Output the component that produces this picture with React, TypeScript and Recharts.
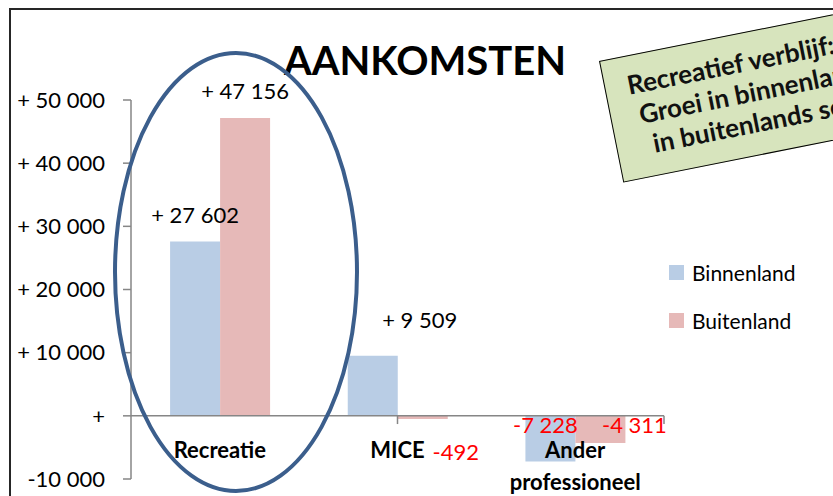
import { BarChart, Bar, XAxis, YAxis, ReferenceLine, ReferenceDot, LabelList } from 'recharts'

const categories = ['Recreatie', 'MICE', 'Ander professioneel']
const categoryLines = [['Recreatie'], ['MICE'], ['Ander', 'professioneel']]
const binnenland = [27602, 9509, -7228]
const buitenland = [47156, -492, -4311]
const yTicks = [-10000, 0, 10000, 20000, 30000, 40000, 50000]
const seriesNames = ['Binnenland', 'Buitenland']
const seriesColors = ['#b9cde5', '#e6b9b8']
const boundaryTicks = [1, 2, 3]

const data = categories.map((name, i) => ({ name, binnenland: binnenland[i], buitenland: buitenland[i] }))

// manual label placement, like the dragged labels in the original
const labelShift = {
  binnenland: [{ dx: 0, dy: -27 }, { dx: 47, dy: -36 }, { dx: -5, dy: -37 }],
  buitenland: [{ dx: 0, dy: -27 }, { dx: 33, dy: 33 }, { dx: 34, dy: -19 }],
}

const FONT = 'Lato, "Open Sans", sans-serif'

const spaced = (v: number) => String(Math.abs(Math.round(v))).replace(/\B(?=(\d{3})+(?!\d))/g, ' ')
const fmtTick = (v: number) => (v > 0 ? `+ ${spaced(v)}` : v < 0 ? `-${spaced(v)}` : '+')

const makeLabel = (key: 'binnenland' | 'buitenland') => (p: any) => {
  const { x, y, width, height, value, index } = p
  const top = Math.min(y, y + height)
  const bottom = Math.max(y, y + height)
  const s = labelShift[key][index]
  const neg = value < 0
  const cy = (neg ? bottom : top) + s.dy
  const cx = x + width / 2 + s.dx
  return (
    <text x={cx} y={cy} textAnchor="middle" dominantBaseline="central" fontSize={22} fontFamily={FONT} fill={neg ? '#ff0000' : '#000'}>
      {neg ? `-${spaced(value)}` : `+ ${spaced(value)}`}
    </text>
  )
}

const CatLabel = (lines: string[]) => (p: any) => (
  <text x={p.cx} y={p.cy + 34} textAnchor="middle" fontSize={22} fontWeight="bold" fontFamily={FONT} fill="#000">
    {lines.map((l, i) => (
      <tspan key={l} x={p.cx} dy={i === 0 ? 0 : 32} dominantBaseline="central">{l}</tspan>
    ))}
  </text>
)

export default function App() {
  return (
    <div style={{ position: 'absolute', left: 0, top: 0, width: 833, height: 496, overflow: 'hidden', background: '#fff' }}>
      <div style={{ position: 'absolute', left: 9, top: 8, width: 900, height: 600, borderTop: '2px solid #262626', borderLeft: '2px solid #262626' }} />
      <BarChart width={833} height={496} data={data} margin={{ top: 100, right: 169, bottom: 17, left: 0 }} barCategoryGap="22%" barGap={0}>
        <XAxis dataKey="name" hide />
        <XAxis xAxisId="num" type="number" domain={[0, 3]} hide />
        <YAxis
          width={131}
          domain={[-10000, 50000]}
          ticks={yTicks}
          tickFormatter={fmtTick}
          axisLine={{ stroke: '#868686', strokeWidth: 1.5 }}
          tickLine={{ stroke: '#868686', strokeWidth: 1.5 }}
          tickSize={8}
          tickMargin={18}
          tick={{ fontSize: 22, fontFamily: FONT, fill: '#000' }}
          interval={0}
        />
        <Bar dataKey="binnenland" name="Binnenland" fill={seriesColors[0]} isAnimationActive={false}>
          <LabelList dataKey="binnenland" content={makeLabel('binnenland')} />
        </Bar>
        <Bar dataKey="buitenland" name="Buitenland" fill={seriesColors[1]} isAnimationActive={false}>
          <LabelList dataKey="buitenland" content={makeLabel('buitenland')} />
        </Bar>
        <ReferenceLine y={0} stroke="#868686" strokeWidth={1.5} />
        {boundaryTicks.map((t) => (
          <ReferenceLine key={t} xAxisId="num" segment={[{ x: t, y: 0 }, { x: t, y: -1300 }]} stroke="#868686" strokeWidth={1.5} />
        ))}
        {categories.map((c, i) => (
          <ReferenceDot key={c} x={c} y={0} r={1} shape={CatLabel(categoryLines[i])} />
        ))}
      </BarChart>
      <div style={{ position: 'absolute', left: 669, top: 248, fontFamily: FONT, fontSize: 21, color: '#000' }}>
        {seriesNames.map((n, i) => (
          <div key={n} style={{ display: 'flex', alignItems: 'center', height: 48 }}>
            <span style={{ width: 15, height: 15, background: seriesColors[i], marginRight: 8, display: 'inline-block' }} />
            {n}
          </div>
        ))}
      </div>
      <div style={{ position: 'absolute', left: 250, top: 36, width: 350, textAlign: 'center', fontFamily: FONT, fontWeight: 'bold', fontSize: 40, color: '#000' }}>
        AANKOMSTEN
      </div>
      <svg width={833} height={496} style={{ position: 'absolute', left: 0, top: 0, pointerEvents: 'none' }}>
        <ellipse cx={236} cy={272} rx={121} ry={219} fill="none" stroke="#3b5e8c" strokeWidth={4} />
      </svg>
      <div
        style={{
          position: 'absolute', left: 599, top: 61, width: 330, height: 124,
          transform: 'rotate(-11.3deg)', transformOrigin: '0 0',
          background: '#d7e4bd', border: '1.5px solid #000', boxSizing: 'border-box',
          fontFamily: FONT, fontWeight: 'bold', fontSize: 26, lineHeight: '31px', color: '#111',
          padding: '13px 0 0 22px', whiteSpace: 'nowrap',
        }}
      >
        <div>Recreatief verblijf:</div>
        <div style={{ paddingLeft: 6 }}>Groei in binnenlands en</div>
        <div style={{ paddingLeft: 14 }}>in buitenlands segment</div>
      </div>
    </div>
  )
}
